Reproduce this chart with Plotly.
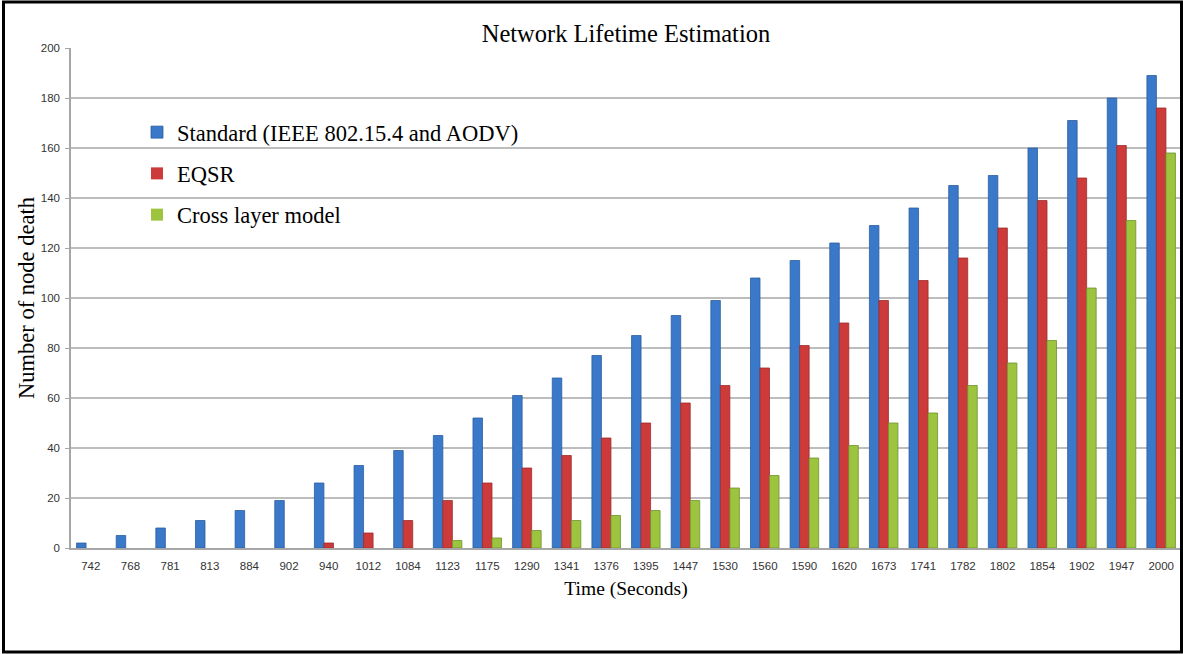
import plotly.graph_objects as go

times = ["742", "768", "781", "813", "884", "902", "940", "1012", "1084", "1123",
         "1175", "1290", "1341", "1376", "1395", "1447", "1530", "1560", "1590",
         "1620", "1673", "1741", "1782", "1802", "1854", "1902", "1947", "2000"]

standard = [2, 5, 8, 11, 15, 19, 26, 33, 39, 45, 52, 61, 68, 77, 85, 93, 99, 108,
            115, 122, 129, 136, 145, 149, 160, 171, 180, 189]
eqsr = [0, 0, 0, 0, 0, 0, 2, 6, 11, 19, 26, 32, 37, 44, 50, 58, 65, 72, 81, 90,
        99, 107, 116, 128, 139, 148, 161, 176]
cross_layer = [0, 0, 0, 0, 0, 0, 0, 0, 0, 3, 4, 7, 11, 13, 15, 19, 24, 29, 36,
               41, 50, 54, 65, 74, 83, 104, 131, 158]

series_names = ["Standard (IEEE 802.15.4 and AODV)", "EQSR", "Cross layer model"]
series_values = [standard, eqsr, cross_layer]
fill_colors = ["#3A78C9", "#CC3A3A", "#9CC43F"]
edge_colors = ["#2B5E9F", "#9E2C2C", "#6F9230"]

W, H = 1183, 654
ML, MR, MT, MB = 71, 2, 48, 106
PW, PH = W - ML - MR, H - MT - MB


def px_x(px):
    return (px - ML) / PW


def px_y(py):
    return (H - MB - py) / PH


fig = go.Figure()
for i, (name, vals) in enumerate(zip(series_names, series_values)):
    fig.add_trace(go.Bar(
        x=times, y=vals, name=name, legendgroup=f"g{i}",
        marker=dict(color=fill_colors[i],
                    line=dict(color=edge_colors[i],
                              width=[0.8 if v > 0 else 0 for v in vals])),
    ))

serif = "Liberation Serif, Times New Roman, serif"
sans = "Liberation Sans, Arial, sans-serif"

fig.update_layout(
    width=W, height=H,
    margin=dict(l=ML, r=MR, t=MT, b=MB, pad=0),
    paper_bgcolor="white", plot_bgcolor="white",
    barmode="group", bargap=0.28, bargroupgap=0,
    title=dict(text="Network Lifetime Estimation",
               font=dict(family=serif, size=24.5, color="black"),
               x=0.5, xref="paper", xanchor="center",
               y=1 - 33 / H, yref="container", yanchor="middle"),
    legend=dict(x=px_x(137), y=px_y(111), xanchor="left", yanchor="top",
                bgcolor="rgba(0,0,0,0)", borderwidth=0,
                font=dict(family=serif, size=22.5, color="black"),
                traceorder="grouped", tracegroupgap=9),
    xaxis=dict(type="category", showgrid=False, showline=True,
               linecolor="#A6A6A6", linewidth=1.5, ticks="",
               tickfont=dict(family=sans, size=11.5, color="#333333"),
               ticklabelstandoff=6,
               title=dict(text="Time (Seconds)",
                          font=dict(family=serif, size=19.5, color="black"),
                          standoff=11)),
    yaxis=dict(range=[0, 200], dtick=20, tick0=0, showgrid=True,
               gridcolor="#BDBDBD", gridwidth=1.8, showline=True,
               linecolor="#A6A6A6", linewidth=1.5, ticks="outside",
               ticklen=4, tickcolor="#A6A6A6", zeroline=False,
               tickfont=dict(family=sans, size=11.5, color="#333333"),
               ticklabelstandoff=3,
               title=dict(text="Number of node death",
                          font=dict(family=serif, size=22.5, color="black"),
                          standoff=0)),
    shapes=[dict(type="rect", xref="paper", yref="paper",
                 x0=px_x(3.5), x1=px_x(1181.5), y0=px_y(652), y1=px_y(2),
                 line=dict(color="black", width=3), fillcolor="rgba(0,0,0,0)",
                 layer="above")],
)

fig.write_html(
    "out.html",
    config={"displayModeBar": False},
    post_script="document.body.style.margin='0';document.body.style.overflow='hidden';",
)
